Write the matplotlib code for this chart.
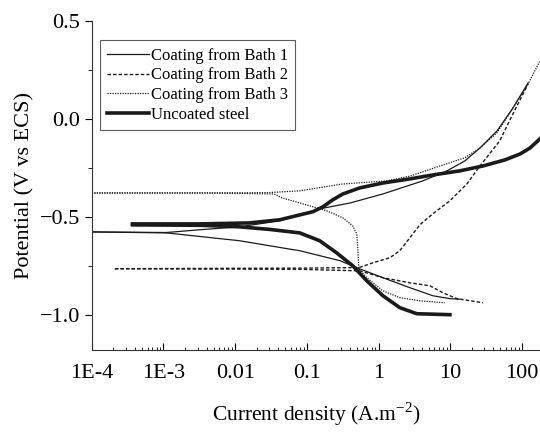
import matplotlib
matplotlib.use("Agg")
import matplotlib.pyplot as plt
from matplotlib.ticker import LogLocator, FixedLocator, MultipleLocator, FuncFormatter

plt.rcParams['font.family'] = ['Liberation Serif', 'DejaVu Serif']
plt.rcParams['mathtext.fontset'] = 'custom'
plt.rcParams['mathtext.rm'] = 'Liberation Serif'
plt.rcParams['axes.unicode_minus'] = True

# current density (A/m2) and potential (V vs ECS)
bath1_an_i = [1e-4, 1.1e-3, 3.2e-3, 0.0115, 0.042, 0.0796, 0.151, 0.403, 1.15, 4.16, 9.0, 16.0, 26, 45, 75, 122]
bath1_an_e = [-0.577, -0.580, -0.566, -0.551, -0.520, -0.490, -0.459, -0.429, -0.383, -0.316, -0.265, -0.214, -0.148, -0.061, 0.056, 0.184]
bath1_ca_i = [1e-4, 1.1e-3, 0.0115, 0.058, 0.0796, 0.29, 0.497, 1.15, 2.74, 5.7, 9.9, 13.6]
bath1_ca_e = [-0.577, -0.582, -0.622, -0.665, -0.673, -0.724, -0.760, -0.811, -0.862, -0.903, -0.918, -0.921]

bath2_an_i = [2.1e-4, 0.079, 0.34, 0.548, 0.832, 1.44, 1.98, 2.74, 3.78, 5.7, 9.9, 17.1, 26, 49, 75, 122]
bath2_an_e = [-0.765, -0.762, -0.760, -0.758, -0.735, -0.709, -0.673, -0.607, -0.540, -0.485, -0.418, -0.332, -0.240, -0.112, 0.026, 0.179]
bath2_ca_i = [2.1e-4, 0.079, 0.548, 1.15, 2.74, 5.2, 7.9, 12.4, 28.6]
bath2_ca_e = [-0.765, -0.768, -0.776, -0.811, -0.837, -0.852, -0.888, -0.918, -0.939]

bath3_an_i = [1e-4, 3.2e-3, 0.03, 0.0796, 0.318, 1.31, 2.74, 7.2, 16.0, 26, 45, 75, 122, 178]
bath3_an_e = [-0.378, -0.378, -0.376, -0.367, -0.332, -0.316, -0.292, -0.240, -0.198, -0.148, -0.070, 0.056, 0.179, 0.296]
bath3_ca_i = [1e-4, 3.2e-3, 0.035, 0.045, 0.0796, 0.190, 0.318, 0.437, 0.497, 0.514, 0.531, 0.686, 1.15, 1.98, 3.77, 8.4]
bath3_ca_e = [-0.378, -0.378, -0.383, -0.403, -0.429, -0.469, -0.505, -0.546, -0.587, -0.658, -0.765, -0.811, -0.878, -0.913, -0.929, -0.939]

steel_an_i = [3.7e-4, 3.2e-3, 0.0158, 0.042, 0.0796, 0.121, 0.167, 0.230, 0.318, 0.548, 1.15, 2.74, 5.7, 13.6, 28.6, 58, 94, 130, 178]
steel_an_e = [-0.536, -0.536, -0.531, -0.515, -0.490, -0.474, -0.449, -0.413, -0.383, -0.352, -0.327, -0.306, -0.286, -0.265, -0.240, -0.209, -0.179, -0.148, -0.102]
steel_ca_i = [3.7e-4, 3.2e-3, 0.0115, 0.030, 0.0796, 0.151, 0.261, 0.437, 0.686, 1.15, 1.98, 3.42, 9.9]
steel_ca_e = [-0.541, -0.543, -0.551, -0.564, -0.582, -0.622, -0.684, -0.750, -0.827, -0.903, -0.964, -0.995, -1.0]

col = '#1a1a1a'
dash = (0, (2.5, 1.5))
dot = (0, (1, 1))

fig = plt.figure(figsize=(5.4, 4.32), dpi=100)
ax = fig.add_axes([0.170, 0.190, 0.830, 0.761])

ax.plot(bath1_an_i, bath1_an_e, color=col, lw=0.9, label='Coating from Bath 1')
ax.plot(bath1_ca_i, bath1_ca_e, color=col, lw=0.9)
ax.plot(bath2_an_i, bath2_an_e, color=col, lw=1.0, ls=dash, label='Coating from Bath 2')
ax.plot(bath2_ca_i, bath2_ca_e, color=col, lw=1.0, ls=dash)
ax.plot(bath3_an_i, bath3_an_e, color=col, lw=0.9, ls=dot, label='Coating from Bath 3')
ax.plot(bath3_ca_i, bath3_ca_e, color=col, lw=0.9, ls=dot)
ax.plot(steel_an_i, steel_an_e, color=col, lw=2.6, label='Uncoated steel', solid_joinstyle='round')
ax.plot(steel_ca_i, steel_ca_e, color=col, lw=2.6, solid_joinstyle='round')

ax.set_xscale('log')
ax.set_xlim(1e-4, 179)
ax.set_ylim(-1.18, 0.5)

xticks = [1e-4, 1e-3, 1e-2, 1e-1, 1, 10, 100]
xlabels = ['1E-4', '1E-3', '0.01', '0.1', '1', '10', '100']
ax.xaxis.set_major_locator(FixedLocator(xticks))
ax.set_xticklabels(xlabels)
ax.xaxis.set_minor_locator(LogLocator(base=10, subs=range(2, 10), numticks=20))
ax.xaxis.set_minor_formatter(FuncFormatter(lambda v, p: ''))
ax.yaxis.set_major_locator(MultipleLocator(0.5))
ax.yaxis.set_minor_locator(MultipleLocator(0.25))
ax.yaxis.set_major_formatter(FuncFormatter(lambda v, p: f'{v:.1f}'.replace('-', '\u2212')))

ax.tick_params(axis='x', which='major', direction='in', length=5, width=0.8, labelsize=16, pad=10)
ax.tick_params(axis='x', which='minor', direction='in', length=2.5, width=0.6)
ax.tick_params(axis='y', which='major', direction='out', length=5, width=0.8, labelsize=16)
ax.tick_params(axis='y', which='minor', direction='out', length=3, width=0.6)

for s in ['top', 'right']:
    ax.spines[s].set_visible(False)
for s in ['left', 'bottom']:
    ax.spines[s].set_color('#333333')

ax.set_xlabel('Current density (A.m$^{\u22122}$)', fontsize=15.5, labelpad=13)
ax.set_ylabel('Potential (V vs ECS)', fontsize=16, labelpad=4)

leg = ax.legend(loc='upper left', bbox_to_anchor=(0.018, 0.942), borderaxespad=0,
                fontsize=12, frameon=True, fancybox=False, edgecolor='#333333',
                handlelength=2.5, handletextpad=0.1, labelspacing=0.22, borderpad=0.45)
leg.get_frame().set_linewidth(0.8)

fig.savefig('out.png', dpi=100)
